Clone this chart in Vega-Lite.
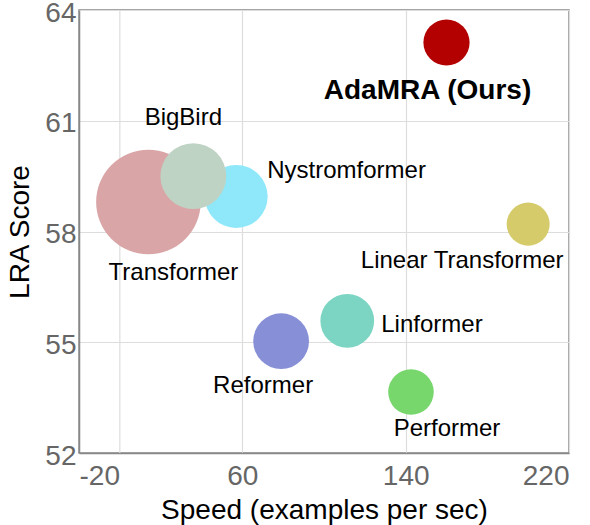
{
  "$schema": "https://vega.github.io/schema/vega-lite/v6.json",
  "autosize": {"type": "none"},
  "padding": {"left": 79, "top": 10, "right": 21, "bottom": 72},
  "width": 490,
  "height": 443,
  "background": "white",
  "config": {
    "font": "Liberation Sans",
    "view": {"stroke": "#888888", "strokeWidth": 1.5},
    "axis": {
      "labelFont": "Liberation Sans",
      "titleFont": "Liberation Sans",
      "labelFontSize": 28,
      "titleFontSize": 28,
      "labelColor": "#666666",
      "titleColor": "#000000",
      "titleFontWeight": "normal",
      "domainColor": "#888888",
      "domainWidth": 1.5,
      "gridColor": "#dddddd",
      "gridWidth": 1.2,
      "ticks": false,
      "labelExpr": "'' + datum.value"
    }
  },
  "data": {
    "values": [
      {"model": "Transformer", "speed": 14, "lra": 58.8, "memory": 34.8},
      {"model": "Nystromformer", "speed": 57, "lra": 58.95, "memory": 12.6},
      {"model": "BigBird", "speed": 36, "lra": 59.5, "memory": 13.8},
      {"model": "Reformer", "speed": 79, "lra": 55.03, "memory": 9.9},
      {"model": "Linformer", "speed": 111.4, "lra": 55.58, "memory": 9.2},
      {"model": "Performer", "speed": 142.6, "lra": 53.65, "memory": 6.6},
      {"model": "Linear Transformer", "speed": 200, "lra": 58.2, "memory": 5.9},
      {"model": "AdaMRA (Ours)", "speed": 160, "lra": 63.12, "memory": 6.8}
    ]
  },
  "encoding": {
    "x": {
      "field": "speed", "type": "quantitative",
      "scale": {"domain": [-20, 220], "nice": false, "zero": false},
      "axis": {"values": [-20, 60, 140, 220], "title": "Speed (examples per sec)", "labelPadding": 9, "titlePadding": 6}
    },
    "y": {
      "field": "lra", "type": "quantitative",
      "scale": {"domain": [52, 64], "nice": false, "zero": false},
      "axis": {"values": [52, 55, 58, 61, 64], "title": "LRA Score", "labelPadding": 3, "titlePadding": 10, "labelOffset": 3}
    }
  },
  "layer": [
    {
      "data": {"values": [{"zero": 0}]},
      "mark": {"type": "rule", "color": "#dddddd", "strokeWidth": 1.2},
      "encoding": {"x": {"field": "zero", "type": "quantitative"}, "y": null}
    },
    {
      "mark": {"type": "circle", "opacity": 1},
      "encoding": {
        "size": {
          "field": "memory", "type": "quantitative", "legend": null,
          "scale": {"type": "linear", "domain": [0, 35], "range": [0, 10996], "zero": true}
        },
        "color": {
          "field": "model", "type": "nominal", "legend": null,
          "scale": {
            "domain": ["Transformer", "Nystromformer", "BigBird", "Reformer", "Linformer", "Performer", "Linear Transformer", "AdaMRA (Ours)"],
            "range": ["#d9a5a6", "#8ee8fa", "#bfd3c4", "#8790d6", "#7bd5c2", "#77d66c", "#d5cb6b", "#b30000"]
          }
        }
      }
    },
    {
      "transform": [{"filter": "datum.model == 'AdaMRA (Ours)'"}],
      "mark": {"type": "text", "fontSize": 28, "fontWeight": "bold", "align": "center", "baseline": "alphabetic", "dx": -19, "dy": 57},
      "encoding": {"text": {"field": "model"}}
    },
    {
      "transform": [{"filter": "datum.model == 'BigBird'"}],
      "mark": {"type": "text", "fontSize": 24, "align": "center", "baseline": "alphabetic", "dx": -10, "dy": -51},
      "encoding": {"text": {"field": "model"}}
    },
    {
      "transform": [{"filter": "datum.model == 'Nystromformer'"}],
      "mark": {"type": "text", "fontSize": 24, "align": "left", "baseline": "alphabetic", "dx": 31, "dy": -18},
      "encoding": {"text": {"field": "model"}}
    },
    {
      "transform": [{"filter": "datum.model == 'Transformer'"}],
      "mark": {"type": "text", "fontSize": 24, "align": "center", "baseline": "alphabetic", "dx": 25, "dy": 78},
      "encoding": {"text": {"field": "model"}}
    },
    {
      "transform": [{"filter": "datum.model == 'Linear Transformer'"}],
      "mark": {"type": "text", "fontSize": 24, "align": "center", "baseline": "alphabetic", "dx": -66, "dy": 44},
      "encoding": {"text": {"field": "model"}}
    },
    {
      "transform": [{"filter": "datum.model == 'Linformer'"}],
      "mark": {"type": "text", "fontSize": 24, "align": "left", "baseline": "alphabetic", "dx": 34, "dy": 11},
      "encoding": {"text": {"field": "model"}}
    },
    {
      "transform": [{"filter": "datum.model == 'Reformer'"}],
      "mark": {"type": "text", "fontSize": 24, "align": "center", "baseline": "alphabetic", "dx": -18, "dy": 52},
      "encoding": {"text": {"field": "model"}}
    },
    {
      "transform": [{"filter": "datum.model == 'Performer'"}],
      "mark": {"type": "text", "fontSize": 24, "align": "center", "baseline": "alphabetic", "dx": 36, "dy": 44},
      "encoding": {"text": {"field": "model"}}
    }
  ]
}
